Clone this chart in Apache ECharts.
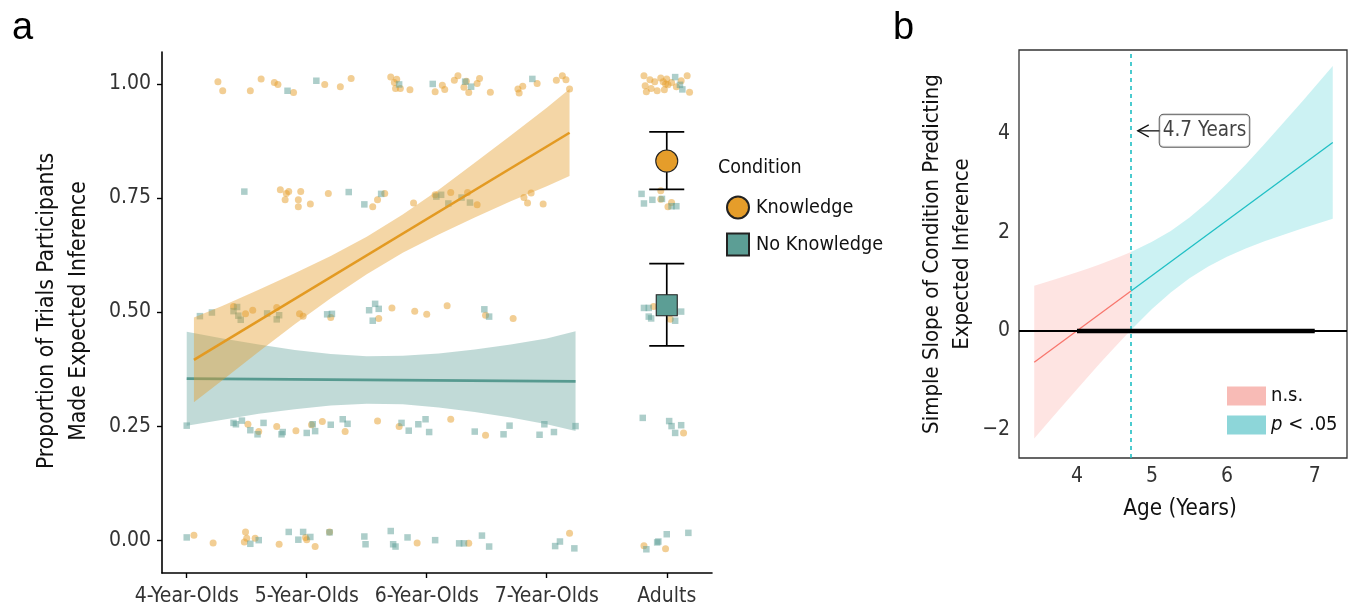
<!DOCTYPE html>
<html><head><meta charset="utf-8">
<script src="https://cdn.jsdelivr.net/npm/echarts@6/dist/echarts.min.js"></script>
<style>html,body{margin:0;padding:0;background:#fff;}#c{width:1348px;height:607px;}</style>
</head><body><div id="c"></div>
<script>
const FONT = "'DejaVu Sans Condensed','Liberation Sans Narrow',sans-serif";

// ---------- Panel a data ----------
const ageTickValues = [4, 5, 6, 7, 8];
const ageTickLabels = ['4-Year-Olds', '5-Year-Olds', '6-Year-Olds', '7-Year-Olds', 'Adults'];
const propTickValues = [0, 0.25, 0.5, 0.75, 1];

const knowledgeChildPoints = [
  [4.26,1.005],[4.30,0.985],[4.53,0.985],[4.62,1.011],[4.73,1.003],[4.76,0.999],[4.89,0.981],[5.15,0.999],[5.28,0.994],[5.37,1.012],[5.70,1.015],[5.73,1.003],[5.75,1.010],[5.74,0.990],[5.78,0.990],[5.86,0.987],[6.07,0.983],[6.13,0.997],[6.15,0.988],[6.23,1.008],[6.26,1.018],[6.31,0.993],[6.33,1.006],[6.35,0.981],[6.42,1.001],[6.44,1.012],[6.53,0.982],[6.76,0.989],[6.77,0.980],[6.80,0.995],[6.92,1.001],[7.08,1.008],[7.13,1.018],[7.16,1.009],[7.19,0.989],
  [4.78,0.768],[4.82,0.746],[4.83,0.760],[4.85,0.764],[4.93,0.746],[4.93,0.731],[4.95,0.764],[5.03,0.737],[5.18,0.760],[5.55,0.731],[5.59,0.746],[5.65,0.760],[5.89,0.739],[6.07,0.757],[6.20,0.762],[6.34,0.762],[6.42,0.735],[6.81,0.751],[6.84,0.739],[6.87,0.761],[6.97,0.737],
  [4.39,0.512],[4.49,0.496],[4.55,0.504],[4.75,0.510],[4.94,0.496],[4.97,0.491],[5.20,0.488],[5.60,0.486],[5.71,0.509],[5.90,0.502],[6.00,0.495],[6.17,0.514],[6.49,0.493],[6.72,0.486],
  [4.51,0.254],[4.60,0.238],[4.75,0.249],[4.91,0.240],[5.04,0.253],[5.13,0.260],[5.32,0.238],[5.59,0.261],[5.77,0.249],[6.20,0.265],[6.49,0.230],
  [4.06,0.011],[4.22,-0.006],[4.49,0.018],[4.50,0.004],[4.48,-0.004],[4.57,0.004],[4.77,-0.009],[4.99,0.006],[5.00,0.001],[5.07,-0.014],[5.19,0.018],[5.92,-0.006],[6.35,-0.007],[7.19,0.015]
];
const noKnowledgeChildPoints = [
  [4.84,0.985],[5.08,1.007],[5.77,0.999],[6.05,1.000],[6.32,1.005],[6.37,0.994],[6.88,1.011],
  [4.48,0.764],[5.35,0.763],[5.48,0.736],[5.62,0.759],[6.08,0.753],[6.12,0.757],[6.18,0.738],[6.29,0.751],[6.36,0.740],
  [4.11,0.491],[4.21,0.499],[4.39,0.502],[4.42,0.511],[4.43,0.492],[4.45,0.483],[4.67,0.497],[4.77,0.493],[4.75,0.484],[5.17,0.495],[5.21,0.496],[5.52,0.504],[5.57,0.518],[5.60,0.507],[5.55,0.481],[6.48,0.506],[6.52,0.490],
  [4.00,0.251],[4.39,0.257],[4.41,0.254],[4.46,0.262],[4.53,0.241],[4.59,0.232],[4.64,0.257],[4.79,0.232],[4.80,0.237],[5.00,0.235],[5.05,0.254],[5.07,0.239],[5.20,0.253],[5.30,0.265],[5.34,0.255],[5.79,0.257],[5.85,0.240],[5.93,0.254],[5.99,0.265],[6.02,0.237],[6.40,0.238],[6.64,0.232],[6.69,0.251],[6.94,0.231],[6.98,0.254],[7.06,0.237],[7.24,0.250],
  [4.00,0.006],[4.53,-0.008],[4.60,0.000],[4.85,0.018],[4.93,0.001],[4.97,0.018],[5.03,0.007],[5.19,0.017],[5.48,0.008],[5.49,-0.009],[5.70,0.020],[5.72,-0.009],[5.74,-0.014],[5.84,0.006],[6.07,0.000],[6.27,-0.007],[6.31,-0.007],[6.46,0.010],[6.52,-0.014],[7.07,-0.013],[7.11,-0.003],[7.23,-0.018]
];
const knowledgeAdultPoints = [
  [7.81,1.018],[7.86,1.009],[7.82,0.996],[7.83,0.983],[7.90,1.005],[7.92,0.985],[7.95,1.013],[7.98,0.987],[8.00,1.011],[8.01,0.998],[8.04,1.003],[8.08,0.994],[8.17,1.018],[8.19,0.982],[7.99,1.000],[8.12,1.007],[7.87,0.990],[7.97,1.005],
  [7.95,0.766],[7.95,0.747],[8.01,0.731],[8.04,0.740],
  [7.89,0.512],[8.03,0.484],
  [8.14,0.235],
  [7.81,-0.012],[7.99,-0.019]
];
const noKnowledgeAdultPoints = [
  [8.07,1.015],[8.11,0.998],[8.13,0.988],
  [7.79,0.759],[7.81,0.738],[7.88,0.746],[7.96,0.748],[8.04,0.732],[8.08,0.732],
  [7.81,0.509],[7.85,0.509],[7.85,0.490],[7.87,0.486],[8.12,0.501],[8.07,0.481],[7.95,0.500],[8.00,0.520],
  [7.80,0.268],[8.02,0.261],[8.04,0.250],[8.12,0.252],[8.07,0.235],
  [8.00,0.013],[8.18,0.016],[7.92,-0.005],[7.93,-0.003],[7.83,-0.020]
];

const knowledgeFitAge = [4.06, 7.19];
const knowledgeFitProp = [0.395, 0.893];
const noKnowledgeFitAge = [4.00, 7.24];
const noKnowledgeFitProp = [0.354, 0.348];

const knowledgeBandAge  = [4.06, 4.3, 4.6, 4.9, 5.2, 5.5, 5.8, 6.1, 6.4, 6.7, 7.0, 7.19];
const knowledgeBandLow  = [0.302,0.351,0.413,0.473,0.530,0.583,0.630,0.670,0.707,0.743,0.776,0.798];
const knowledgeBandHigh = [0.488,0.514,0.549,0.585,0.623,0.665,0.714,0.768,0.827,0.887,0.948,0.989];
const noKnowledgeBandAge  = [4.0, 4.3, 4.6, 4.9, 5.2, 5.5, 5.8, 6.1, 6.4, 6.7, 7.0, 7.24];
const noKnowledgeBandLow  = [0.251,0.264,0.277,0.287,0.295,0.299,0.298,0.291,0.281,0.269,0.254,0.239];
const noKnowledgeBandHigh = [0.457,0.442,0.429,0.417,0.408,0.403,0.404,0.409,0.418,0.429,0.442,0.458];

const adultConditions = ['Knowledge', 'No Knowledge'];
const adultPosition = 8;
const adultMean = [0.831, 0.515];
const adultLow  = [0.769, 0.426];
const adultHigh = [0.895, 0.606];

// ---------- Panel b data ----------
const slopeTickValues = [-2, 0, 2, 4];
const slopeTickLabels = ['\u22122', '0', '2', '4'];
const ageBTickValues = [4, 5, 6, 7.17];
const ageBTickLabels = ['4', '5', '6', '7'];

const nsAge  = [3.43, 3.7, 4.0, 4.15, 4.3, 4.5, 4.6, 4.72];
const nsLow  = [-2.181,-1.704,-1.179,-0.921,-0.666,-0.333,-0.170,0.022];
const nsHigh = [0.917, 1.044, 1.191, 1.269, 1.350, 1.465, 1.526, 1.602];
const sigAge  = [4.72, 5.0, 5.25, 5.5, 5.75, 6.0, 6.25, 6.5, 7.0, 7.41];
const sigLow  = [0.022, 0.444, 0.782, 1.071, 1.310, 1.506, 1.673, 1.821, 2.081, 2.276];
const sigHigh = [1.602, 1.808, 2.030, 2.301, 2.622, 2.986, 3.379, 3.791, 4.651, 5.374];
const nsLineAge = [3.43, 4.72];
const nsLineSlope = [-0.632, 0.812];
const sigLineAge = [4.72, 7.41];
const sigLineSlope = [0.812, 3.825];
const jnPoint = 4.72;
const jnLabel = '4.7 Years';
const jnLabelPos = [5.70, 4.06];
const jnArrow = [5.12, 4.06, 4.81];
const observedRange = [4.0, 7.17];

// ---------- colours ----------
const ORANGE = '#E59D2A', TEAL = '#5C9E95';
const RED = '#F8766D', CYAN = '#1FBFC4';

function pairs(xs, ys) { return xs.map((x, i) => [x, ys[i]]); }

function bandSeries(name, idx, ages, low, high, color, z) {
  return {
    type: 'custom', name: name, xAxisIndex: idx, yAxisIndex: idx, z: z, silent: true,
    itemStyle: { color: color },
    data: [[ages[0], low[0]]],
    renderItem: function (params, api) {
      const pts = [];
      for (let i = 0; i < ages.length; i++) pts.push(api.coord([ages[i], high[i]]));
      for (let i = ages.length - 1; i >= 0; i--) pts.push(api.coord([ages[i], low[i]]));
      return { type: 'polygon', shape: { points: pts }, style: { fill: color } };
    }
  };
}

const chart = echarts.init(document.getElementById('c'), null, { renderer: 'canvas' });

const option = {
  animation: false,
  backgroundColor: '#fff',
  grid: [
    { left: 162, top: 52, width: 550, height: 521, show: false },
    { left: 1019, top: 50, width: 328, height: 408, show: true, borderColor: '#333', borderWidth: 1.3, backgroundColor: 'transparent' }
  ],
  xAxis: [
    {
      gridIndex: 0, type: 'value', min: 3.794, max: 8.377,
      axisLine: { show: true, onZero: false, lineStyle: { color: '#000', width: 1.6 } },
      axisTick: { show: true, length: 5, customValues: ageTickValues, lineStyle: { color: '#000', width: 1.4 } },
      axisLabel: { customValues: ageTickValues, margin: 13, fontSize: 21, fontFamily: FONT, color: '#333',
        formatter: v => ageTickLabels[ageTickValues.indexOf(v)] },
      splitLine: { show: false }
    },
    {
      gridIndex: 1, type: 'value', min: 3.227, max: 7.6,
      axisLine: { show: false },
      axisTick: { show: false },
      axisLabel: { customValues: ageBTickValues, margin: 8, fontSize: 21, fontFamily: FONT, color: '#333',
        formatter: v => ageBTickLabels[ageBTickValues.indexOf(v)] },
      splitLine: { show: false }
    }
  ],
  yAxis: [
    {
      gridIndex: 0, type: 'value', min: -0.072, max: 1.07,
      axisLine: { show: true, onZero: false, lineStyle: { color: '#000', width: 1.6 } },
      axisTick: { show: true, length: 5, customValues: propTickValues, lineStyle: { color: '#000', width: 1.4 } },
      axisLabel: { customValues: propTickValues, margin: 11, fontSize: 21, fontFamily: FONT, color: '#333',
        formatter: v => v.toFixed(2) },
      splitLine: { show: false }
    },
    {
      gridIndex: 1, type: 'value', min: -2.576, max: 5.70,
      axisLine: { show: false },
      axisTick: { show: false },
      axisLabel: { customValues: slopeTickValues, margin: 9, fontSize: 21, fontFamily: FONT, color: '#333',
        formatter: v => slopeTickLabels[slopeTickValues.indexOf(v)] },
      splitLine: { show: false }
    }
  ],
  legend: [
    {
      left: 721, top: 190.5, orient: 'vertical', itemWidth: 22, itemHeight: 22, itemGap: 13,
      selectedMode: false,
      data: [{ name: 'Knowledge', icon: 'circle' }, { name: 'No Knowledge', icon: 'rect' }],
      formatter: n => '{t|' + n + '}',
      textStyle: { rich: { t: { padding: [0, 0, 0, 2], fontSize: 19.7, fontFamily: FONT, color: '#111' } } }
    },
    {
      left: 1222, top: 381, orient: 'vertical', itemWidth: 39, itemHeight: 19, itemGap: 9,
      selectedMode: false,
      data: [
        { name: 'n.s.', icon: 'rect', itemStyle: { color: '#F8BBB6' } },
        { name: 'p < .05', icon: 'rect', itemStyle: { color: '#8DD6D9' } }
      ],
      formatter: n => n === 'p < .05' ? '{i|p}{t| < .05}' : '{n|' + n + '}',
      textStyle: { rich: {
        i: { padding: [0, 0, 0, 0], fontSize: 20, fontFamily: FONT, fontStyle: 'italic', color: '#111' },
        t: { fontSize: 20, fontFamily: FONT, color: '#111' },
        n: { padding: [0, 0, 0, 0], fontSize: 20, fontFamily: FONT, color: '#111' }
      } }
    }
  ],
  series: [
    // ---- panel a: jittered points ----
    { type: 'scatter', name: 'kPts', xAxisIndex: 0, yAxisIndex: 0, z: 2, silent: true,
      symbol: 'circle', symbolSize: 7, itemStyle: { color: ORANGE, opacity: 0.5 },
      data: knowledgeChildPoints.concat(knowledgeAdultPoints) },
    { type: 'scatter', name: 'nkPts', xAxisIndex: 0, yAxisIndex: 0, z: 2, silent: true,
      symbol: 'rect', symbolSize: 6.5, itemStyle: { color: TEAL, opacity: 0.5 },
      data: noKnowledgeChildPoints.concat(noKnowledgeAdultPoints) },
    // ---- panel a: smooth bands & lines ----
    bandSeries('nkBand', 0, noKnowledgeBandAge, noKnowledgeBandLow, noKnowledgeBandHigh, 'rgba(92,158,149,0.38)', 3),
    { type: 'line', name: 'nkFit', xAxisIndex: 0, yAxisIndex: 0, z: 4, silent: true, symbol: 'none',
      lineStyle: { color: '#579A90', width: 2.6 }, data: pairs(noKnowledgeFitAge, noKnowledgeFitProp) },
    bandSeries('kBand', 0, knowledgeBandAge, knowledgeBandLow, knowledgeBandHigh, 'rgba(229,157,42,0.42)', 5),
    { type: 'line', name: 'kFit', xAxisIndex: 0, yAxisIndex: 0, z: 6, silent: true, symbol: 'none',
      lineStyle: { color: '#E39A22', width: 2.6 }, data: pairs(knowledgeFitAge, knowledgeFitProp) },
    // ---- panel a: adult error bars & means ----
    { type: 'custom', name: 'errbars', xAxisIndex: 0, yAxisIndex: 0, z: 7, silent: true,
      data: adultLow.map((l, i) => [adultPosition, l, adultHigh[i]]),
      renderItem: function (params, api) {
        const x = api.value(0), lo = api.value(1), hi = api.value(2);
        const a = api.coord([x, hi]), b = api.coord([x, lo]);
        const w = 17.5, st = { stroke: '#000', lineWidth: 1.7 };
        return { type: 'group', children: [
          { type: 'line', shape: { x1: a[0], y1: a[1], x2: b[0], y2: b[1] }, style: st },
          { type: 'line', shape: { x1: a[0] - w, y1: a[1], x2: a[0] + w, y2: a[1] }, style: st },
          { type: 'line', shape: { x1: b[0] - w, y1: b[1], x2: b[0] + w, y2: b[1] }, style: st }
        ] };
      } },
    { type: 'scatter', name: adultConditions[0], xAxisIndex: 0, yAxisIndex: 0, z: 8, silent: true,
      symbol: 'circle', symbolSize: 22,
      itemStyle: { color: ORANGE, opacity: 1, borderColor: '#222', borderWidth: 1.1 },
      data: [[adultPosition, adultMean[0]]] },
    { type: 'scatter', name: adultConditions[1], xAxisIndex: 0, yAxisIndex: 0, z: 8, silent: true,
      symbol: 'rect', symbolSize: 21,
      itemStyle: { color: TEAL, opacity: 1, borderColor: '#222', borderWidth: 1.1 },
      data: [[adultPosition, adultMean[1]]] },

    // ---- panel b ----
    bandSeries('n.s.', 1, nsAge, nsLow, nsHigh, 'rgba(248,118,109,0.2)', 2),
    bandSeries('p < .05', 1, sigAge, sigLow, sigHigh, 'rgba(0,191,196,0.2)', 2),
    { type: 'line', name: 'nsLine', xAxisIndex: 1, yAxisIndex: 1, z: 3, silent: true, symbol: 'none',
      lineStyle: { color: RED, width: 1.3 }, data: pairs(nsLineAge, nsLineSlope),
      markLine: { silent: true, symbol: 'none', label: { show: false }, z: 4,
        lineStyle: { color: '#000', width: 1.8, type: 'solid' }, data: [{ yAxis: 0 }] } },
    { type: 'line', name: 'sigLine', xAxisIndex: 1, yAxisIndex: 1, z: 3, silent: true, symbol: 'none',
      lineStyle: { color: CYAN, width: 1.3 }, data: pairs(sigLineAge, sigLineSlope),
      markLine: { silent: true, symbol: 'none', label: { show: false }, z: 3,
        lineStyle: { color: CYAN, width: 1.6, type: [4, 4] }, data: [{ xAxis: jnPoint }] } },
    { type: 'line', name: 'range', xAxisIndex: 1, yAxisIndex: 1, z: 5, silent: true, symbol: 'none',
      lineStyle: { color: '#000', width: 4.5 }, data: [[observedRange[0], 0], [observedRange[1], 0]] },
    { type: 'custom', name: 'arrow', xAxisIndex: 1, yAxisIndex: 1, z: 6, silent: true,
      data: [jnArrow],
      renderItem: function (params, api) {
        const p0 = api.coord([api.value(0), api.value(1)]);
        const p1 = api.coord([api.value(2), api.value(1)]);
        const st = { stroke: '#111', lineWidth: 1.3, fill: null };
        return { type: 'group', children: [
          { type: 'line', shape: { x1: p0[0], y1: p0[1], x2: p1[0], y2: p1[1] }, style: st },
          { type: 'polyline', shape: { points: [[p1[0] + 11, p1[1] - 6], [p1[0], p1[1]], [p1[0] + 11, p1[1] + 6]] }, style: st }
        ] };
      } },
    { type: 'scatter', name: 'jnLabel', xAxisIndex: 1, yAxisIndex: 1, z: 7, silent: true,
      symbol: 'circle', symbolSize: 1, itemStyle: { color: 'rgba(0,0,0,0)' },
      data: [jnLabelPos],
      label: { show: true, position: 'inside', formatter: jnLabel, fontSize: 20.5, fontFamily: FONT, color: '#111',
        backgroundColor: '#fff', borderColor: '#333', borderWidth: 1, borderRadius: 4, padding: [6, 3, 5, 3] } }
  ],
  graphic: [
    { type: 'text', x: 12, y: 29, style: { text: 'a', fontSize: 38, fontFamily: "'Liberation Sans',Arial,sans-serif", fill: '#000', textAlign: 'left', textVerticalAlign: 'middle' } },
    { type: 'text', x: 893, y: 29, style: { text: 'b', fontSize: 38, fontFamily: "'Liberation Sans',Arial,sans-serif", fill: '#000', textAlign: 'left', textVerticalAlign: 'middle' } },
    { type: 'text', x: 47, y: 311, rotation: Math.PI / 2, style: { text: 'Proportion of Trials Participants', fontSize: 22.7, fontFamily: FONT, fill: '#111', textAlign: 'center', textVerticalAlign: 'middle' } },
    { type: 'text', x: 79, y: 311, rotation: Math.PI / 2, style: { text: 'Made Expected Inference', fontSize: 22.7, fontFamily: FONT, fill: '#111', textAlign: 'center', textVerticalAlign: 'middle' } },
    { type: 'text', x: 932, y: 254, rotation: Math.PI / 2, style: { text: 'Simple Slope of Condition Predicting', fontSize: 22, fontFamily: FONT, fill: '#111', textAlign: 'center', textVerticalAlign: 'middle' } },
    { type: 'text', x: 962, y: 254, rotation: Math.PI / 2, style: { text: 'Expected Inference', fontSize: 22, fontFamily: FONT, fill: '#111', textAlign: 'center', textVerticalAlign: 'middle' } },
    { type: 'text', x: 1180, y: 509, style: { text: 'Age (Years)', fontSize: 22.3, fontFamily: FONT, fill: '#111', textAlign: 'center', textVerticalAlign: 'middle' } },
    { type: 'text', x: 718, y: 168, style: { text: 'Condition', fontSize: 19.5, fontFamily: FONT, fill: '#111', textAlign: 'left', textVerticalAlign: 'middle' } }
  ]
};
chart.setOption(option);
</script>
</body></html>
